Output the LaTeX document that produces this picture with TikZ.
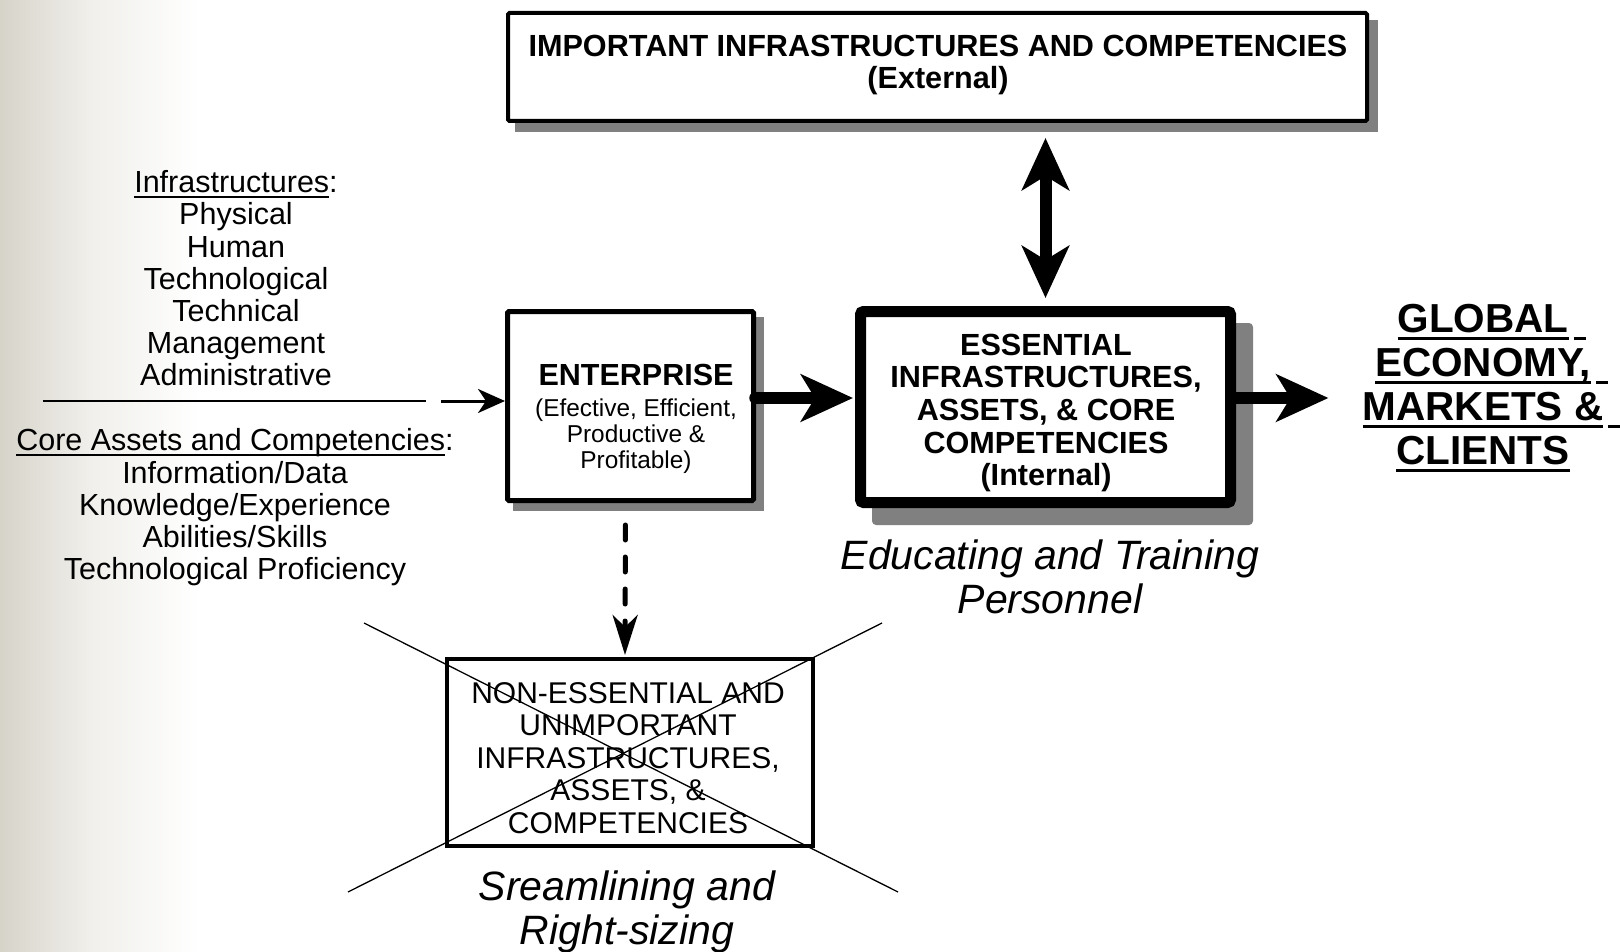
\documentclass[tikz,border=0pt]{standalone}
\usepackage{fontspec}
\setmainfont{Liberation Sans}
\usetikzlibrary{arrows.meta,calc}
\definecolor{shadowgray}{RGB}{128,128,128}
\definecolor{bgleft}{RGB}{214,212,201}
\definecolor{bgmid}{RGB}{240,239,235}
\newsavebox\ulbox
% underline: #1 depth below baseline of rule bottom, #2 thickness, #3 text
\newcommand\ulx[3]{\sbox\ulbox{#3}\rlap{\rule[-#1]{\wd\ulbox}{#2}}\usebox\ulbox}
\newcommand\lul[1]{\ulx{5pt}{2pt}{#1}}
\newcommand\gul[1]{\ulx{7pt}{3pt}{#1}}
\newcommand\gtail{\rlap{\hspace{5pt}\rule[-7pt]{12pt}{3pt}}}
\tikzset{
  bigtip/.tip={Stealth[length=52pt,width=47pt,inset=14pt]},
  dashtip/.tip={Stealth[length=40pt,width=25pt,inset=12pt]},
  thintip/.tip={Stealth[length=27pt,width=24pt,inset=8pt]},
}
\begin{document}
\begin{tikzpicture}[x=1pt,y=-1pt,
  txt/.style={inner sep=0pt, align=center},
  frame/.style={draw, fill=white, inner sep=0pt},
  bigarrow/.style={line width=11.5pt, line cap=round, -bigtip},
  dasharrow/.style={line width=5pt, line cap=round, dash pattern=on 15pt off 17pt, -dashtip},
  thinarrow/.style={line width=3pt, -thintip},
  crossline/.style={line width=1.3pt},
]
\useasboundingbox (0,0) rectangle (1620,952);
\fill[white] (0,0) rectangle (1620,952);
\shade[left color=bgleft, right color=bgmid] (0,0) rectangle (90,952);
\shade[left color=bgmid, right color=white] (89.5,0) rectangle (200,952);

% shadows
\fill[shadowgray] (515,20) rectangle (1378,132);
\fill[shadowgray] (513,317) rectangle (764,511);
\fill[shadowgray, rounded corners=4pt] (872,323) rectangle (1253,525);

% boxes
\node[frame, line width=4pt, rounded corners=1.5pt, minimum width=859pt, minimum height=108pt] (top) at (937.5,67) {};
\node[frame, line width=5pt, rounded corners=1.5pt, minimum width=246pt, minimum height=189pt] (ent) at (630.5,406) {};
\node[frame, line width=11pt, rounded corners=3pt, minimum width=370pt, minimum height=191pt] (ess) at (1045.5,407) {};
\node[frame, line width=4pt, minimum width=366pt, minimum height=187pt] (non) at (630,752.5) {};

% box texts
\node[txt, font=\fontsize{30.6}{32.3}\selectfont\bfseries] (toptxt) at (938,65)
  {IMPORTANT INFRASTRUCTURES AND COMPETENCIES\\(External)};
\node[txt, font=\fontsize{24.4}{26}\selectfont] (enttxt) at (636,419)
  {{\fontsize{30.5}{32}\selectfont\bfseries ENTERPRISE}\\[5pt](Efective, Efficient,\\Productive \&\\Profitable)};
\node[txt, font=\fontsize{30.6}{32.7}\selectfont\bfseries] (esstxt) at (1046,413)
  {ESSENTIAL\\INFRASTRUCTURES,\\ASSETS, \& CORE\\COMPETENCIES\\(Internal)};
\node[txt, font=\fontsize{30}{32.5}\selectfont] (nontxt) at (628,758)
  {NON-ESSENTIAL AND\\UNIMPORTANT\\INFRASTRUCTURES,\\ASSETS, \&\\COMPETENCIES};

% left lists
\node[txt, font=\fontsize{30.5}{32.2}\selectfont] (infra) at (236,278.5)
  {\lul{Infrastructures}:\\Physical\\Human\\Technological\\Technical\\Management\\Administrative};
\node[txt, font=\fontsize{30.5}{32.2}\selectfont] (core) at (235,507.5)
  {\lul{Core Assets and Competencies}:\\Information/Data\\Knowledge/Experience\\Abilities/Skills\\Technological Proficiency};
\coordinate (sepL) at (43,401);
\coordinate (sepR) at (426,401);
\draw[line width=1.8pt] (sepL) -- (sepR);
\coordinate (inarr) at (441,401);
\draw[thinarrow] (inarr) -- (inarr -| ent.west);

% global
\node[txt, font=\fontsize{40.5}{44}\selectfont\bfseries] (glob) at (1483,388)
  {\gul{GLOBAL}\gtail\\\gul{ECONOMY,}\gtail\\\gul{MARKETS \&}\gtail\\\gul{CLIENTS}};

% italic captions
\node[txt, font=\fontsize{41}{44}\selectfont\itshape] (edu) at (1050,577)
  {Educating and Training\\Personnel};
\node[txt, font=\fontsize{41}{44}\selectfont\itshape] (stream) at (627,912)
  {Sreamlining and\\Right-sizing};

% connectors
\coordinate (arrY) at (0,398);
\draw[line width=12pt, bigtip-bigtip, shorten <=15pt, shorten >=8pt] (top.south -| ess.north) -- (ess.north);
\draw[bigarrow, shorten <=-1pt, shorten >=2pt] (ent.east |- arrY) -- (ess.west |- arrY);
\draw[bigarrow, line cap=butt, shorten >=34pt] (ess.east |- arrY) -- (glob.west |- arrY);
\draw[dasharrow, shorten <=22pt, shorten >=2pt] ([xshift=-5pt]ent.south) -- ([xshift=-5pt]non.north);

% cross
\coordinate (c1a) at (364,623);
\coordinate (c1b) at (898,892);
\coordinate (c2a) at (348,892);
\coordinate (c2b) at (882,623);
\draw[crossline] (c1a) -- (c1b);
\draw[crossline] (c2a) -- (c2b);
\end{tikzpicture}
\end{document}
